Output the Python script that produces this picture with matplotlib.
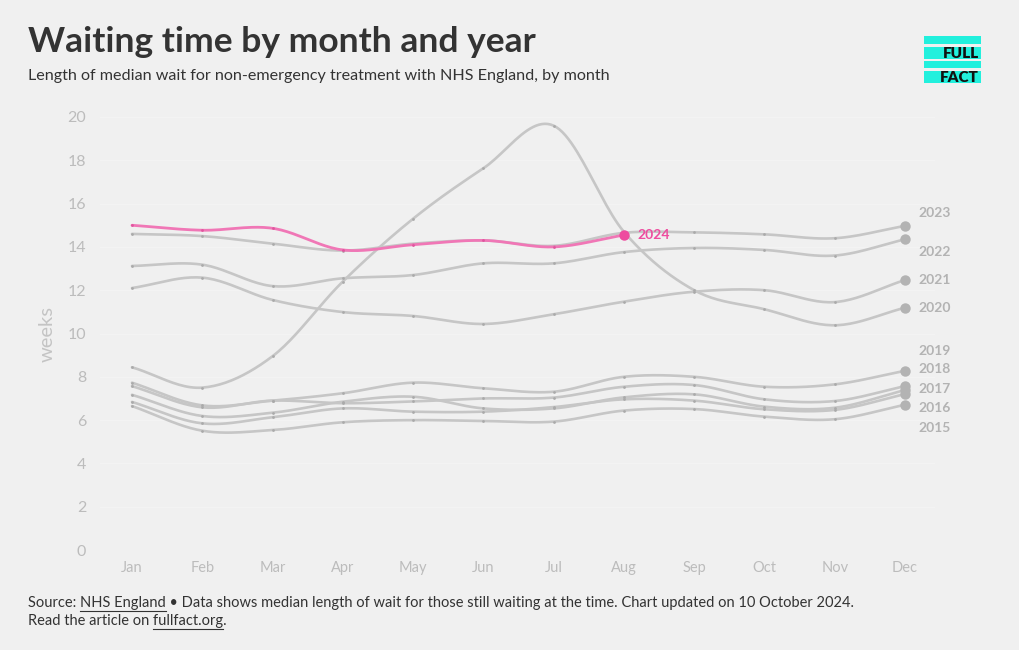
import numpy as np
import matplotlib
matplotlib.use('Agg')
import matplotlib.pyplot as plt
from matplotlib.patches import Rectangle
from matplotlib.lines import Line2D

#===============================
# data (median wait, weeks)
months = ['Jan', 'Feb', 'Mar', 'Apr', 'May', 'Jun',
          'Jul', 'Aug', 'Sep', 'Oct', 'Nov', 'Dec']

years = ['2015', '2016', '2017', '2018', '2019',
         '2020', '2021', '2022', '2023']

weeks_2015 = [6.65, 5.51, 5.54, 5.90, 6.00, 5.96, 5.93, 6.44, 6.51, 6.16, 6.04, 6.71]
weeks_2016 = [6.84, 5.85, 6.13, 6.54, 6.39, 6.39, 6.60, 6.96, 6.90, 6.50, 6.47, 7.20]
weeks_2017 = [7.17, 6.19, 6.34, 6.85, 7.08, 6.54, 6.54, 7.05, 7.19, 6.62, 6.57, 7.39]
weeks_2018 = [7.57, 6.59, 6.90, 6.78, 6.86, 7.00, 7.04, 7.54, 7.62, 6.96, 6.88, 7.57]
weeks_2019 = [7.73, 6.68, 6.90, 7.24, 7.73, 7.47, 7.31, 8.00, 8.00, 7.54, 7.65, 8.28]
weeks_2020 = [8.44, 7.50, 8.95, 12.40, 15.30, 17.63, 19.60, 14.70, 12.00, 11.12, 10.38, 11.19]
weeks_2021 = [12.10, 12.58, 11.55, 10.99, 10.81, 10.44, 10.89, 11.47, 11.93, 12.00, 11.45, 12.47]
weeks_2022 = [13.12, 13.18, 12.19, 12.55, 12.70, 13.24, 13.24, 13.76, 13.95, 13.86, 13.60, 14.35]
weeks_2023 = [14.60, 14.50, 14.15, 13.83, 14.15, 14.30, 14.05, 14.65, 14.67, 14.58, 14.40, 14.97]
weeks_2024 = [15.00, 14.77, 14.86, 13.86, 14.10, 14.30, 14.00, 14.55]

# end labels pushed apart to avoid overlap (pixels, + is up)
label_nudge = {'2023': 13, '2022': -13, '2021': 0, '2020': 0, '2019': 20,
               '2018': 17, '2017': 1, '2016': -14, '2015': -23}

W, H = 1020, 650
BG = '#f0f0f0'
GREY = '#c6c6c6'
GREY_DOT = '#b3b3b3'
PINK = '#f077b6'
PINK_DOT = '#ee4c9f'
DARK = '#333333'
TICK = '#bcbcbc'

plt.rcParams['font.family'] = ['Lato', 'DejaVu Sans']


#===============================
def Smooth(y, n=24):
  # catmull-rom style cubic through the monthly points
  y = np.asarray(y, dtype=float)
  k = len(y)
  m = np.zeros(k)
  m[1:-1] = (y[2:] - y[:-2]) / 2.0
  m[0] = y[1] - y[0]
  m[-1] = y[-1] - y[-2]
  xs, ys = [], []
  for i in range(k - 1):
    t = np.linspace(0, 1, n, endpoint=(i == k - 2))
    h00 = 2*t**3 - 3*t**2 + 1
    h10 = t**3 - 2*t**2 + t
    h01 = -2*t**3 + 3*t**2
    h11 = t**3 - t**2
    xs.append(i + t)
    ys.append(h00*y[i] + h10*m[i] + h01*y[i+1] + h11*m[i+1])
  return np.concatenate(xs), np.concatenate(ys)


def Underline(fig, renderer, x, y, full, word, **kw):
  # underline `word`, the last part of `full`, drawn from (x, y) in figure coords
  t1 = fig.text(x, y, full, **kw)
  t2 = fig.text(x, y, word, **kw)
  b1 = t1.get_window_extent(renderer)
  b2 = t2.get_window_extent(renderer)
  t1.remove()
  t2.remove()
  x1 = b1.x1
  x0 = x1 - b2.width
  yy = b1.y0 - 1
  fig.add_artist(Line2D([x0 / W, x1 / W], [yy / H, yy / H],
                        transform=fig.transFigure, color=DARK, lw=0.8))


#==================================
def DrawFig():
  fig = plt.figure(figsize=(W / 100, H / 100), dpi=100, facecolor=BG)
  ax = fig.add_axes([100 / W, 1 - 550 / H, 835 / W, 433 / H])
  ax.set_facecolor(BG)

  series = dict(zip(years, [weeks_2015, weeks_2016, weeks_2017, weeks_2018,
                            weeks_2019, weeks_2020, weeks_2021, weeks_2022,
                            weeks_2023]))

  for yr in years:
    vals = series[yr]
    sx, sy = Smooth(vals)
    ax.plot(sx, sy, color=GREY, lw=1.9, solid_capstyle='round', zorder=2,
            clip_on=False)
    ax.plot(range(len(vals)), vals, 'o', ms=2.0, color='#aaaaaa', mew=0,
            zorder=3, clip_on=False)
    ax.plot(len(vals) - 1, vals[-1], 'o', ms=7.5, color=GREY_DOT, mew=0,
            zorder=4, clip_on=False)
    ax.annotate(yr, (len(vals) - 1, vals[-1]), xytext=(9.5, 0.72 * label_nudge[yr]),
                textcoords='offset points', ha='left', va='center',
                fontsize=10, fontweight='bold', color=GREY_DOT)

  sx, sy = Smooth(weeks_2024)
  ax.plot(sx, sy, color=PINK, lw=2.0, solid_capstyle='round', zorder=5)
  ax.plot(range(len(weeks_2024)), weeks_2024, 'o', ms=2.0, color='#e0559f',
          mew=0, zorder=6)
  last = len(weeks_2024) - 1
  ax.plot(last, weeks_2024[-1], 'o', ms=7.5, color=PINK_DOT, mew=0, zorder=7)
  ax.annotate('2024', (last, weeks_2024[-1]), xytext=(10, 0),
              textcoords='offset points', ha='left', va='center',
              fontsize=10, fontweight='bold', color=PINK_DOT, zorder=7)

  ax.set_xlim(-0.455, 11.427)
  ax.set_ylim(0, 20)
  ax.set_xticks(range(12))
  ax.set_xticklabels(months)
  ax.set_yticks(range(0, 21, 2))
  ax.tick_params(axis='y', length=0, pad=10, labelsize=11.5, labelcolor=TICK)
  ax.tick_params(axis='x', length=0, pad=8, labelsize=10.5, labelcolor=TICK)
  for s in ax.spines.values():
    s.set_visible(False)
  ax.grid(axis='y', color='#f3f3f3', lw=0.9, zorder=0)
  ax.set_ylabel('weeks', fontsize=14.5, color='#c4c4c4')
  ax.yaxis.set_label_coords(-0.053, 0.5)

  # titles
  fig.text(28 / W, 1 - 42 / H, 'Waiting time by month and year', fontsize=25.5,
           fontweight='bold', color=DARK, va='center', ha='left')
  fig.text(28 / W, 1 - 76 / H,
           'Length of median wait for non-emergency treatment with NHS England, by month',
           fontsize=11.65, color=DARK, va='center', ha='left')

  # logo
  cyan = '#22f0dd'
  for y0, y1 in [(36, 44), (47, 59), (61, 68), (71, 83)]:
    fig.add_artist(Rectangle((924 / W, 1 - y1 / H), 57 / W, (y1 - y0) / H,
                             transform=fig.transFigure, color=cyan, lw=0))
  fig.text(979 / W, 1 - 53.5 / H, 'FULL', fontsize=11, fontweight='heavy',
           color='#111111', ha='right', va='center')
  fig.text(979 / W, 1 - 77 / H, 'FACT', fontsize=11, fontweight='heavy',
           color='#111111', ha='right', va='center')

  # footer
  renderer = fig.canvas.get_renderer()
  kw = dict(fontsize=10.5, color=DARK, va='baseline', ha='left')
  line1 = ('Source: NHS England \u2022 Data shows median length of wait for those '
           'still waiting at the time. Chart updated on 10 October 2024.')
  line2 = 'Read the article on fullfact.org.'
  fx = 28 / W
  fig.text(fx, 1 - 607 / H, line1, **kw)
  fig.text(fx, 1 - 625 / H, line2, **kw)
  Underline(fig, renderer, fx, 1 - 607 / H, 'Source: NHS England', 'NHS England', **kw)
  Underline(fig, renderer, fx, 1 - 625 / H, 'Read the article on fullfact.org',
            'fullfact.org', **kw)

  plt.savefig('out.png', dpi=100, facecolor=BG)
  return


#==================================
def main():
  DrawFig()
  return

# -------------------------------
if __name__ == '__main__':
  main()
